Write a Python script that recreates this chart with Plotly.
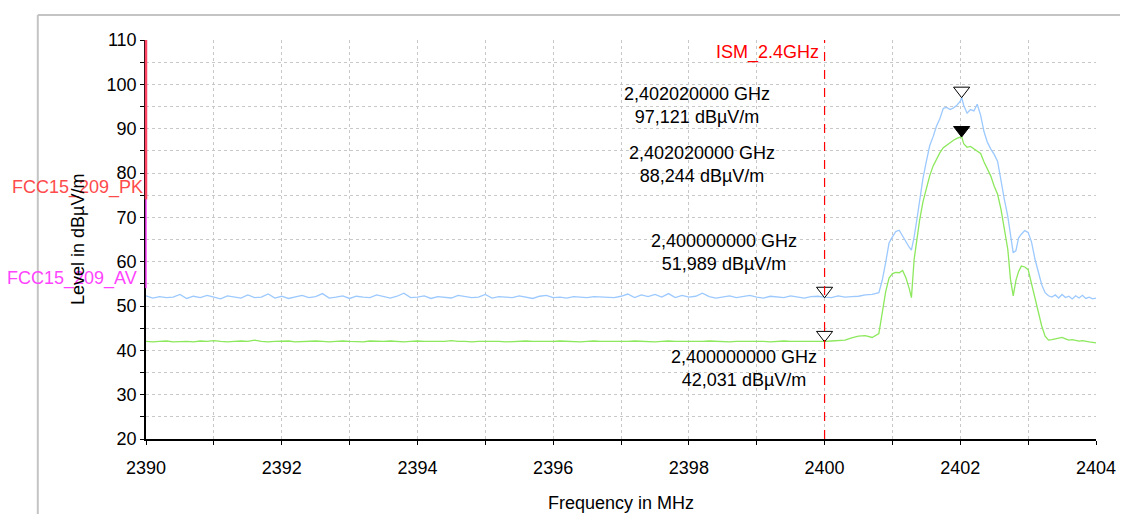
import plotly.graph_objects as go

# ---------------- data ----------------
floor_freq = [round(2390.0 + 0.1 * i, 2) for i in range(108)]  # 2390.0 .. 2400.7

blue_floor = [52.3, 51.8, 52.1, 51.9, 52.0, 52.6, 51.7, 52.2, 51.9, 52.4,
              52.0, 51.6, 52.3, 52.1, 51.8, 52.5, 51.9, 52.0, 52.7, 51.8,
              52.2, 51.7, 52.0, 52.4, 51.9, 52.1, 52.8, 51.8, 52.0, 52.3,
              51.7, 52.2, 52.0, 51.9, 52.5, 52.1, 51.8, 52.2, 52.9, 51.9,
              52.0, 52.3, 51.7, 52.1, 52.0, 51.8, 52.4, 52.2, 51.9, 52.0,
              52.6, 51.8, 52.1, 52.0, 51.9, 52.3, 52.0, 51.7, 52.2, 52.4,
              51.9, 52.0, 51.8, 52.1, 52.0, 51.9, 52.1, 52.0, 52.0, 51.9,
              52.2, 52.7, 51.9, 52.5, 52.1, 52.6, 52.0, 52.8, 51.9, 52.4,
              52.0, 52.2, 52.9, 52.1, 51.8, 52.0, 52.3, 51.9, 52.1, 52.4,
              52.0, 51.8, 52.2, 52.1, 51.9, 52.3, 52.0, 51.8, 52.1, 52.2,
              52.0, 51.9, 52.3, 52.0, 52.1, 52.2, 52.5, 52.6]

green_floor = [42.0, 41.9, 42.0, 42.1, 41.9, 42.0, 42.0, 41.9, 42.1, 42.0,
               42.2, 42.0, 41.9, 42.0, 42.1, 42.0, 42.3, 42.0, 41.9, 42.0,
               42.0, 42.1, 41.9, 42.0, 42.0, 42.1, 42.0, 41.9, 42.0, 42.1,
               42.0, 42.0, 41.9, 42.1, 42.0, 42.0, 42.1, 42.0, 41.9, 42.0,
               42.1, 42.0, 42.0, 41.9, 42.0, 42.2, 42.0, 42.0, 41.9, 42.0,
               42.0, 42.1, 42.0, 41.9, 42.0, 42.0, 42.1, 42.0, 42.0, 41.9,
               42.0, 42.1, 42.0, 42.0, 41.9, 42.0, 42.1, 42.0, 42.0, 42.0,
               41.9, 42.0, 42.1, 42.0, 42.0, 41.9, 42.0, 42.1, 42.0, 42.0,
               42.0, 41.9, 42.0, 42.1, 42.0, 42.0, 41.9, 42.0, 42.0, 42.1,
               42.0, 42.0, 41.9, 42.0, 42.1, 42.0, 42.0, 41.9, 42.0, 42.0,
               42.0, 42.1, 42.2, 42.3, 42.8, 43.2, 43.3, 42.9]

sig_freq = [2400.80, 2400.85, 2400.90, 2400.95, 2401.00, 2401.05, 2401.10, 2401.15, 2401.20, 2401.25,
            2401.28, 2401.32, 2401.36,
            2401.40, 2401.45, 2401.50, 2401.55, 2401.60, 2401.65, 2401.70, 2401.75, 2401.80, 2401.85,
            2401.90, 2401.95, 2402.00,
            2402.02,
            2402.05, 2402.10, 2402.15, 2402.20, 2402.25, 2402.30, 2402.35, 2402.40, 2402.45, 2402.50,
            2402.55, 2402.60, 2402.65, 2402.70,
            2402.74, 2402.78, 2402.82, 2402.86,
            2402.90, 2402.95, 2403.00, 2403.05, 2403.10, 2403.15, 2403.20, 2403.25, 2403.30, 2403.35,
            2403.40, 2403.45, 2403.50, 2403.55, 2403.60, 2403.65, 2403.70, 2403.75, 2403.80, 2403.85,
            2403.90, 2403.95, 2404.00]

blue_sig = [53.0, 55.8, 59.8, 64.2, 65.6, 66.8, 67.1, 65.7, 64.6, 63.2,
            62.6, 65.6, 69.5,
            73.5, 78.8, 82.6, 86.2, 88.2, 90.6, 92.3, 94.6, 94.8, 94.3,
            94.7, 95.3, 96.2,
            97.1,
            95.3, 93.5, 94.3, 94.0, 95.5, 93.0, 89.3, 86.9, 85.4, 84.2,
            82.6, 77.8, 74.0, 70.2,
            65.5, 62.0, 62.5, 65.4,
            66.2, 67.0, 66.6, 64.4, 60.6, 57.6, 54.8, 53.0, 52.3, 52.0,
            52.5, 51.8, 52.6, 51.9, 52.2, 51.6, 52.3, 51.8, 52.4, 51.7,
            52.0, 51.6, 51.8]

green_sig = [43.8, 48.5, 53.2, 56.3, 57.3, 57.6, 57.5, 58.0, 56.3, 53.8,
             51.9, 60.5, 65.5,
             69.3, 73.5, 76.8, 79.4, 81.6, 83.2, 84.6, 85.7, 86.3, 86.8,
             87.4, 87.8, 88.1,
             88.2,
             86.6, 85.8, 86.0, 85.5, 84.9, 84.4, 82.5, 80.8, 79.3, 77.0,
             75.2, 71.8, 67.5, 62.8,
             56.0, 52.3, 55.8, 57.8,
             59.0, 58.8, 58.2, 55.0, 51.5, 48.5, 45.5, 43.2, 42.3, 42.4,
             42.6, 42.8, 42.9, 42.6, 42.3, 42.4, 42.2, 42.1, 42.2, 42.0,
             41.9, 41.8, 41.7]

# markers: (freq MHz, level, filled?, freq label, level label)
mk_freq = [2402.02, 2402.02, 2400.0, 2400.0]
mk_level = [97.121, 88.244, 51.989, 42.031]
mk_filled = [False, True, False, False]
mk_flabel = ["2,402020000 GHz", "2,402020000 GHz", "2,400000000 GHz", "2,400000000 GHz"]
mk_llabel = ["97,121 dBµV/m", "88,244 dBµV/m", "51,989 dBµV/m", "42,031 dBµV/m"]

limit_pk = 74
limit_av = 54
ism_freq = 2400
x_range = [2390, 2404]
y_range = [20, 110]

# ---------------- style ----------------
BLUE = "#9CC9FF"
GREEN = "#8CE85C"
FONT = "Liberation Sans, Arial, sans-serif"
GRID = "#C8C8C8"
FS = 18

fig = go.Figure()
fig.add_trace(go.Scatter(x=floor_freq + sig_freq, y=blue_floor + blue_sig, mode="lines",
                         line=dict(color=BLUE, width=1.3), showlegend=False, hoverinfo="skip"))
fig.add_trace(go.Scatter(x=floor_freq + sig_freq, y=green_floor + green_sig, mode="lines",
                         line=dict(color=GREEN, width=1.3), showlegend=False, hoverinfo="skip"))

# triangle markers sit with their tip on the point
tri_off = 1.45
fig.add_trace(go.Scatter(
    x=mk_freq, y=[v + tri_off for v in mk_level], mode="markers",
    marker=dict(symbol="triangle-down", size=14,
                color=["black" if f else "white" for f in mk_filled],
                line=dict(color="black", width=1)),
    showlegend=False, hoverinfo="skip", cliponaxis=False))

yspan = y_range[1] - y_range[0]
shapes = [
    # outer light frame
    dict(type="line", xref="paper", yref="paper", x0=-0.1139, x1=1.03, y0=1.0627, y1=1.0627,
         line=dict(color="#C4C4C4", width=2)),
    dict(type="line", xref="paper", yref="paper", x0=-0.1139, x1=-0.1139, y0=1.0627, y1=-0.2,
         line=dict(color="#C4C4C4", width=2)),
    # ISM line
    dict(type="line", xref="x", yref="paper", x0=ism_freq, x1=ism_freq, y0=0, y1=1,
         line=dict(color="#FF0000", width=1.2, dash="dash"), layer="above"),
    # limit lines (drawn at the left edge of the scan)
    dict(type="line", xref="paper", yref="paper", x0=0, x1=0,
         y0=(limit_pk - y_range[0]) / yspan, y1=1,
         line=dict(color="#FF4466", width=2.5), layer="above"),
    dict(type="line", xref="paper", yref="paper", x0=0, x1=0,
         y0=(limit_av - y_range[0]) / yspan, y1=(limit_pk - y_range[0]) / yspan,
         line=dict(color="#FF44FF", width=1.5), layer="above"),
]

annotations = []
shifts = [(-265, -8), (-260, -28.5), (-101, 45), (-81, -27)]
for f, v, fl, ll, (dx, dy) in zip(mk_freq, mk_level, mk_flabel, mk_llabel, shifts):
    annotations.append(dict(x=f, y=v, xref="x", yref="y", text=fl + "<br>" + ll, showarrow=False,
                            xanchor="center", yanchor="middle", align="center",
                            xshift=dx, yshift=dy, font=dict(size=FS, color="black", family=FONT)))
annotations.append(dict(x=ism_freq, y=y_range[1], xref="x", yref="y", text="ISM_2.4GHz", showarrow=False,
                        xanchor="right", yanchor="middle", xshift=-4, yshift=-12,
                        font=dict(size=FS, color="#FF0000", family=FONT)))
annotations.append(dict(x=x_range[0], y=limit_pk, xref="x", yref="y", text="FCC15_209_PK", showarrow=False,
                        xanchor="right", yanchor="middle", xshift=-1, yshift=12,
                        font=dict(size=FS, color="#FF4B4B", family=FONT)))
annotations.append(dict(x=x_range[0], y=limit_av, xref="x", yref="y", text="FCC15_209_AV", showarrow=False,
                        xanchor="right", yanchor="middle", xshift=-7, yshift=10,
                        font=dict(size=FS, color="#FF44FF", family=FONT)))
annotations.append(dict(x=0.5, y=-0.1604, xref="paper", yref="paper", text="Frequency in MHz",
                        showarrow=False, xanchor="center", yanchor="middle",
                        font=dict(size=FS, color="black", family=FONT)))
annotations.append(dict(x=-0.0721, y=0.5, xref="paper", yref="paper", text="Level in dBµV/m",
                        showarrow=False, xanchor="center", yanchor="middle", textangle=-90,
                        font=dict(size=FS, color="black", family=FONT)))

fig.update_layout(
    width=1120, height=506,
    margin=dict(l=138, r=25, t=32, b=75),
    paper_bgcolor="white", plot_bgcolor="white",
    font=dict(family=FONT, size=FS, color="black"),
    shapes=shapes, annotations=annotations,
    xaxis=dict(range=x_range, tick0=2390, dtick=2, showline=True, linecolor="black", linewidth=1.5,
               ticks="outside", ticklen=4, tickcolor="black", showgrid=True, gridcolor=GRID,
               griddash="dot", gridwidth=1, zeroline=False, ticklabelstandoff=8,
               tickfont=dict(size=FS, family=FONT),
               minor=dict(dtick=1, ticks="outside", ticklen=4, tickcolor="black",
                          showgrid=True, gridcolor=GRID, griddash="dot", gridwidth=1)),
    yaxis=dict(range=y_range, tick0=20, dtick=10, showline=True, linecolor="black", linewidth=1.5,
               ticks="outside", ticklen=4, tickcolor="black", showgrid=True, gridcolor=GRID,
               griddash="dot", gridwidth=1, zeroline=False, ticklabelstandoff=0,
               tickfont=dict(size=FS, family=FONT),
               minor=dict(dtick=5, ticks="outside", ticklen=4, tickcolor="black",
                          showgrid=True, gridcolor=GRID, griddash="dot", gridwidth=1)),
)

fig.write_html("out.html")
